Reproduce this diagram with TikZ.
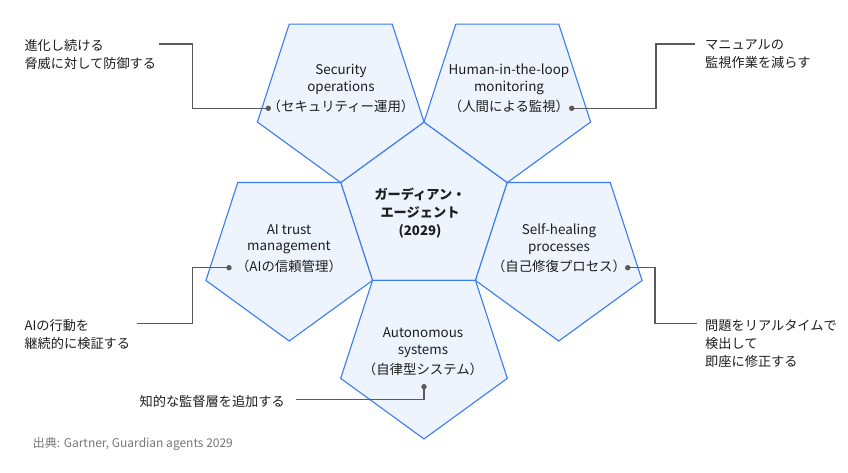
\documentclass[tikz,border=0pt]{standalone}
\usepackage{fontspec}
\setmainfont{Noto Sans CJK JP}
\usetikzlibrary{calc}
\definecolor{pentline}{HTML}{3B7CF0}
\definecolor{pentfill}{HTML}{EDF4FE}
\definecolor{conn}{HTML}{5A5A5A}
\definecolor{txt}{HTML}{1E1E1E}
\definecolor{srcgray}{HTML}{777777}
\begin{document}
\begin{tikzpicture}[x=1pt,y=-1pt,
  pent/.style={draw=pentline,fill=pentfill,line width=1.1pt,line join=miter},
  pentlabel/.style={font=\fontsize{13.4}{16.5}\selectfont,align=center,text=txt,inner sep=0pt},
  centerlabel/.style={font=\fontsize{13.2}{18}\selectfont\bfseries,align=center,text=txt,inner sep=0pt},
  sidetext/.style={font=\fontsize{13.2}{18}\selectfont,align=left,text=txt,inner sep=0pt},
  srctext/.style={font=\fontsize{12}{14}\selectfont,text=srcgray,inner sep=0pt},
  dotnode/.style={circle,fill=conn,draw=none,inner sep=0pt,minimum size=5.4pt},
  connline/.style={draw=conn,line width=1.1pt}]
\fill[white] (0,0) rectangle (848,472);
\useasboundingbox (0,0) rectangle (848,472);
\def\R{87.6}
\def\D{141.7}
\coordinate (C) at (424,209.6);
\coordinate (cS) at ($(C)+(234:\D)$);
\coordinate (cH) at ($(C)+(306:\D)$);
\coordinate (cA) at ($(C)+(162:\D)$);
\coordinate (cF) at ($(C)+(18:\D)$);
\coordinate (cU) at ($(C)+(90:\D)$);
% pentagons
\draw[pent] ($(C)+(270:\R)$) -- ($(C)+(342:\R)$) -- ($(C)+(54:\R)$) -- ($(C)+(126:\R)$) -- ($(C)+(198:\R)$) -- cycle;
\foreach \c in {cS,cH,cA,cF,cU}
  \draw[pent] ($(\c)+(18:\R)$) -- ($(\c)+(90:\R)$) -- ($(\c)+(162:\R)$) -- ($(\c)+(234:\R)$) -- ($(\c)+(306:\R)$) -- cycle;
% pentagon texts
\node[centerlabel] (tC) at (420,213) {ガーディアン・\\エージェント\\(2029)};
\node[pentlabel] (tS) at (341,88.7) {Security\\operations\\[4pt]（セキュリティー運用）};
\node[pentlabel] (tH) at (509,88.7) {Human-in-the-loop\\monitoring\\[4pt]（人間による監視）};
\node[pentlabel] (tA) at (289,248.7) {AI trust\\management\\[4pt]（AIの信頼管理）};
\node[pentlabel] (tF) at (559,248.7) {Self-healing\\processes\\[4pt]（自己修復プロセス）};
\node[pentlabel] (tU) at (423,352) {Autonomous\\systems\\[4pt]（自律型システム）};
% side texts
\node[sidetext,anchor=west] (nS) at (24.3,54) {進化し続ける\\脅威に対して防御する};
\node[sidetext,anchor=west] (nH) at (705,54) {マニュアルの\\監視作業を減らす};
\node[sidetext,anchor=west] (nA) at (24.3,334.4) {AIの行動を\\継続的に検証する};
\node[sidetext,anchor=west] (nF) at (705,344) {問題をリアルタイムで\\検出して\\即座に修正する};
\node[sidetext,anchor=east] (nU) at (285,401.5) {知的な監督層を追加する};
\node[srctext,anchor=west] (src) at (32.7,444) {出典: Gartner, Guardian agents 2029};
% connector points
\coordinate (kS) at (192.3,44); \coordinate (eS) at (159.3,44);
\coordinate (kH) at (656,44);   \coordinate (eH) at (695,44);
\coordinate (kA) at (192.3,323.3); \coordinate (eA) at (136.7,323.3);
\coordinate (kF) at (655,323.3); \coordinate (eF) at (696.7,323.3);
\coordinate (eU) at (296,399.3);
% dots
\node[dotnode] (dS) at (268.3,108.3) {};
\node[dotnode] (dH) at (571.7,108.3) {};
\node[dotnode] (dA) at (229,267.7) {};
\node[dotnode] (dF) at (627.7,267.7) {};
\node[dotnode] (dU) at (424,386.7) {};
% connectors
\draw[connline] (dS.center) -| (kS) -- (eS);
\draw[connline] (dH.center) -| (kH) -- (eH);
\draw[connline] (dA.center) -| (kA) -- (eA);
\draw[connline] (dF.center) -| (kF) -- (eF);
\draw[connline] (dU.center) |- (eU);
\end{tikzpicture}
\end{document}
